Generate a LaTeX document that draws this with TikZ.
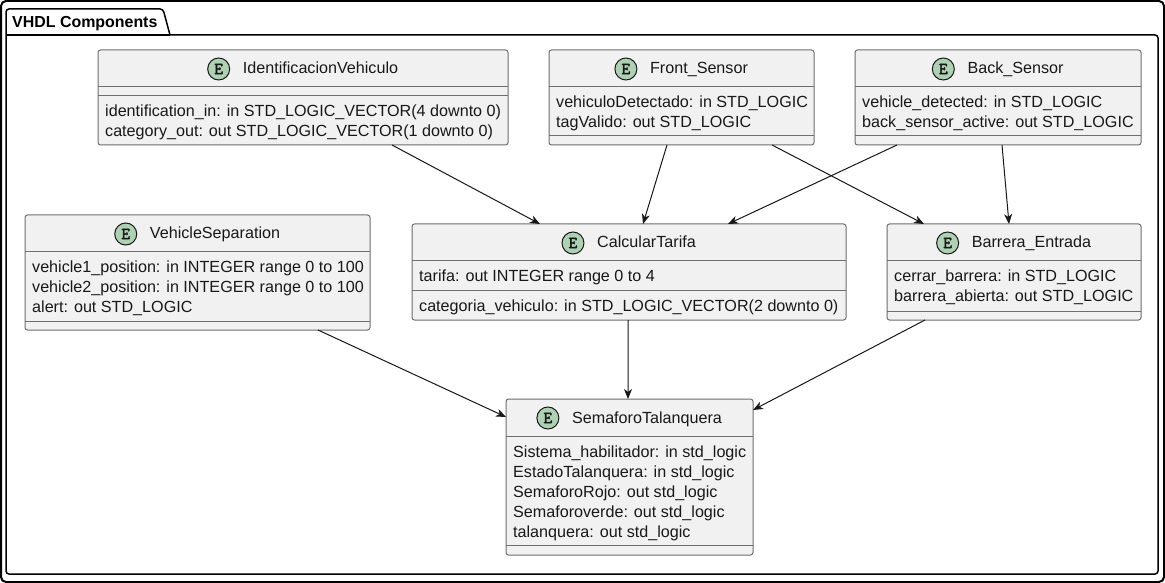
\documentclass[tikz,border=0pt]{standalone}
\usepackage{fontspec}
\setmainfont{Liberation Sans}
\newfontfamily\spotfont{Latin Modern Mono}[AutoFakeBold=2.5]
\usetikzlibrary{arrows.meta,calc}
\definecolor{boxfill}{HTML}{F1F1F1}
\definecolor{boxline}{HTML}{6E6E6E}
\definecolor{spotfill}{HTML}{ADD1B2}
\definecolor{ink}{HTML}{181818}
\newcommand{\enthdr}[2]{%
  \node[hdrtext, anchor=base] (#1h) at ($(#1.north)+(0,24)$) {\hspace*{35bp}#2};
  \node[spot] (#1s) at ($(#1h.west |- #1.north)+(11,19)$) {E};
}
\newcommand{\attrline}[4]{%
  \node[attrtext, anchor=base west] (#1) at ($(#2.north west)+(7,#3)$) {#4};
}
\newcommand{\sepl}[2]{%
  \draw[sepline] ($(#1.north west)+(0,#2)$) -- ($(#1.north east)+(0,#2)$);
}
\begin{document}
\begin{tikzpicture}[x=1bp, y=-1bp,
  entbox/.style={draw=boxline, fill=boxfill, line width=1bp, rounded corners=2.5bp, inner sep=0pt, outer sep=0pt, anchor=north west},
  hdrtext/.style={inner sep=0pt, font=\fontsize{16.2}{18}\selectfont, text=ink},
  attrtext/.style={inner sep=0pt, font=\fontsize{16.2}{18}\selectfont, text=ink},
  spot/.style={circle, draw=ink, fill=spotfill, line width=1bp, minimum size=22bp, inner sep=0pt, font=\fontsize{17}{17}\selectfont\spotfont\bfseries, text=ink},
  sepline/.style={draw=boxline, line width=1bp},
  conn/.style={draw=ink, line width=1bp, -{Stealth[length=10bp, width=8bp, inset=3bp]}},
  frame/.style={draw=black, line width=1.5bp}]
\useasboundingbox (0,0) rectangle (1165,583);
\fill[white] (0,0) rectangle (1165,583);
\draw[line width=2bp, rounded corners=5bp] (1,1) rectangle (1164,582);
% package frame
\draw[frame] (170,35) -- (6,35);
\draw[frame, rounded corners=3bp] (170,35) -- (163,9) -- (6,9) -- (6,574) -- (1158,574) -- (1158,35) -- (170,35);
\node[anchor=base west, inner sep=0pt, font=\bfseries\fontsize{16}{18}\selectfont] (pkgtitle) at (12,28) {VHDL Components};

% IdentificacionVehiculo
\node[entbox, minimum width=410bp, minimum height=95bp] (ident) at (98,50) {};
\enthdr{ident}{IdentificacionVehiculo}
\sepl{ident}{37}
\sepl{ident}{46}
\attrline{identa}{ident}{67}{identification\_in: in STD\_LOGIC\_VECTOR(4 downto 0)}
\attrline{identb}{ident}{87}{category\_out: out STD\_LOGIC\_VECTOR(1 downto 0)}

% Front_Sensor
\node[entbox, minimum width=265bp, minimum height=95bp] (front) at (549,50) {};
\enthdr{front}{Front\_Sensor}
\sepl{front}{37}
\sepl{front}{86}
\attrline{fronta}{front}{58}{vehiculoDetectado: in STD\_LOGIC}
\attrline{frontb}{front}{78}{tagValido: out STD\_LOGIC}

% Back_Sensor
\node[entbox, minimum width=286bp, minimum height=95bp] (back) at (855,50) {};
\enthdr{back}{Back\_Sensor}
\sepl{back}{37}
\sepl{back}{86}
\attrline{backa}{back}{58}{vehicle\_detected: in STD\_LOGIC}
\attrline{backb}{back}{78}{back\_sensor\_active: out STD\_LOGIC}

% VehicleSeparation
\node[entbox, minimum width=345bp, minimum height=115bp] (vsep) at (25,215) {};
\enthdr{vsep}{VehicleSeparation}
\sepl{vsep}{37}
\sepl{vsep}{106}
\attrline{vsepa}{vsep}{58}{vehicle1\_position: in INTEGER range 0 to 100}
\attrline{vsepb}{vsep}{78}{vehicle2\_position: in INTEGER range 0 to 100}
\attrline{vsepc}{vsep}{98}{alert: out STD\_LOGIC}

% CalcularTarifa
\node[entbox, minimum width=434bp, minimum height=96bp] (calc) at (412,224) {};
\enthdr{calc}{CalcularTarifa}
\sepl{calc}{37}
\sepl{calc}{66.5}
\attrline{calca}{calc}{58}{tarifa: out INTEGER range 0 to 4}
\attrline{calcb}{calc}{87.5}{categoria\_vehiculo: in STD\_LOGIC\_VECTOR(2 downto 0)}

% Barrera_Entrada
\node[entbox, minimum width=254bp, minimum height=96bp] (barr) at (887,224) {};
\enthdr{barr}{Barrera\_Entrada}
\sepl{barr}{37}
\sepl{barr}{87}
\attrline{barra}{barr}{58}{cerrar\_barrera: in STD\_LOGIC}
\attrline{barrb}{barr}{78}{barrera\_abierta: out STD\_LOGIC}

% SemaforoTalanquera
\node[entbox, minimum width=247bp, minimum height=156bp] (sem) at (506,399) {};
\enthdr{sem}{SemaforoTalanquera}
\sepl{sem}{37}
\sepl{sem}{146}
\attrline{sema}{sem}{58}{Sistema\_habilitador: in std\_logic}
\attrline{semb}{sem}{78}{EstadoTalanquera: in std\_logic}
\attrline{semc}{sem}{98}{SemaforoRojo: out std\_logic}
\attrline{semd}{sem}{118}{Semaforoverde: out std\_logic}
\attrline{seme}{sem}{138}{talanquera: out std\_logic}

% connectors
\draw[conn] ([xshift=294bp]ident.south west) -- ([xshift=128bp]calc.north west);
\draw[conn] ([xshift=118bp]front.south west) -- ([xshift=231bp]calc.north west);
\draw[conn] ([xshift=223bp]front.south west) -- ([xshift=37bp]barr.north west);
\draw[conn] ([xshift=42bp]back.south west) -- ([xshift=316bp]calc.north west);
\draw[conn] ([xshift=147bp]back.south west) -- ([xshift=122bp]barr.north west);
\draw[conn] ([xshift=293bp]vsep.south west) -- ([yshift=-18bp]sem.north west);
\draw[conn] ([xshift=216bp]calc.south west) -- ([xshift=122bp]sem.north west);
\draw[conn] ([xshift=38bp]barr.south west) -- ([yshift=-11bp]sem.north east);
\end{tikzpicture}
\end{document}
